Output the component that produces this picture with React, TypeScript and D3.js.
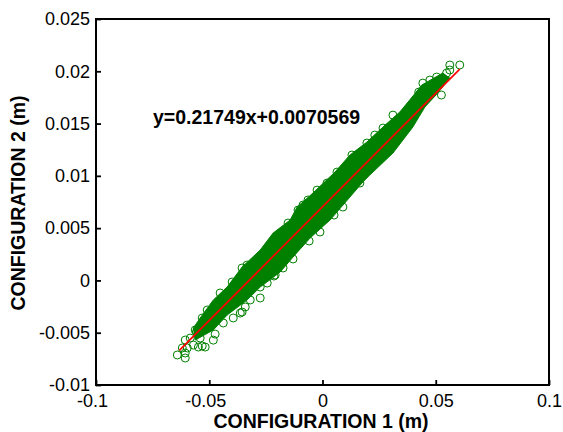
import React, { useEffect, useRef } from "react";
import * as d3 from "d3";

const width = 563;
const height = 432;
const margin = { top: 19, right: 14, bottom: 47, left: 96 };

const xTicks = [-0.1, -0.05, 0, 0.05, 0.1];
const xTickLabels = ["-0.1", "-0.05", "0", "0.05", "0.1"];
const yTicks = [-0.01, -0.005, 0, 0.005, 0.01, 0.015, 0.02, 0.025];
const yTickLabels = ["-0.01", "-0.005", "0", "0.005", "0.01", "0.015", "0.02", "0.025"];

// edge of the solid part of the cloud, too dense to read point by point
const upperEdge: [number, number][] = [
  [-0.057, -0.00455], [-0.054, -0.00359], [-0.0482, -0.00187], [-0.0421, -0.00063],
  [-0.0355, 0.00128], [-0.0275, 0.00291], [-0.0218, 0.00453], [-0.0143, 0.00577],
  [-0.0112, 0.00702], [-0.0042, 0.00836], [0.0055, 0.01036], [0.0121, 0.01199],
  [0.0196, 0.01323], [0.0267, 0.01467], [0.0341, 0.0161], [0.0385, 0.01725],
  [0.0438, 0.01868], [0.0531, 0.01983],
];
const lowerEdge: [number, number][] = [
  [0.0562, 0.01935], [0.0509, 0.01792], [0.0452, 0.01658], [0.0399, 0.01467],
  [0.0311, 0.01218], [0.0209, 0.01008], [0.0178, 0.00941], [0.0121, 0.00797],
  [0.0033, 0.00577], [-0.0055, 0.00405], [-0.013, 0.00224], [-0.0187, 0.0008],
  [-0.0275, -0.00063], [-0.0333, -0.00187], [-0.0421, -0.00331], [-0.0482, -0.00474],
  [-0.0562, -0.0057],
];

// circles that stand clear of the cloud
const outliers: [number, number][] = [
  [0.0562, 0.0206], [0.0606, 0.0206], [0.0562, 0.02012], [0.0548, 0.01983],
  [0.0525, 0.01773], [0.0425, 0.01801], [0.0311, 0.01581], [0.0231, 0.0139],
  [0.0196, 0.01314], [-0.0024, 0.00864], [-0.0086, 0.00721], [-0.0108, 0.00673],
  [-0.0152, 0.00549], [0.0051, 0.00625], [-0.0011, 0.00463], [-0.0059, 0.00377],
  [-0.013, 0.00205], [-0.0174, 0.00119], [-0.0214, 0.00042], [-0.0641, -0.00713],
  [-0.0606, -0.00742], [-0.0606, -0.00694], [-0.0597, -0.00646], [-0.0619, -0.00646],
  [-0.057, -0.00618], [-0.0518, -0.00637], [-0.0531, -0.00627], [-0.0474, -0.00513],
  [-0.054, -0.00551], [-0.0438, -0.00407], [-0.0355, -0.00302], [-0.0394, -0.00359],
  [-0.0275, -0.00168], [-0.0584, -0.00551], [-0.0557, -0.00494],
];

// circles half sunk into the edge of the cloud
const edgeCircles: [number, number][] = [
  [-0.0482, -0.00571], [-0.0548, -0.00637], [-0.0606, -0.0057], [-0.0562, -0.00474],
  [-0.0363, -0.00312], [-0.0341, -0.00254], [-0.0319, -0.00187], [-0.0275, -0.00063],
  [-0.0244, -0.00025], [-0.0209, 0.00052], [-0.0333, 0.00147], [-0.0355, 0.00119],
  [-0.0399, -0.00015], [-0.0452, -0.0012], [-0.0509, -0.00283], [-0.0531, -0.00359],
  [0.0443, 0.01887], [0.0474, 0.01916], [0.0504, 0.01945], [0.0267, 0.01457],
  [0.013, 0.01199], [0.0064, 0.01036], [0.002, 0.00931], [-0.0064, 0.00769],
  [0.0165, 0.00931], [0.009, 0.00702],
];

const fitLine: [number, number][] = [[-0.0632, -0.00668], [0.0606, 0.0202]];

const font = "'Liberation Sans', Arial, sans-serif";
const green = "#008000";

export default function App() {
  const ref = useRef<SVGSVGElement>(null);

  useEffect(() => {
    const svg = d3.select(ref.current);
    svg.selectAll("*").remove();

    const x = d3.scaleLinear().domain([-0.1, 0.1]).range([margin.left, width - margin.right]);
    const y = d3.scaleLinear().domain([-0.01, 0.025]).range([height - margin.bottom, margin.top]);
    const line = d3.line<[number, number]>().x(d => x(d[0])).y(d => y(d[1]));

    // CLOUD
    svg.append("path")
      .attr("d", line([...upperEdge, ...lowerEdge]) + "Z")
      .attr("fill", green)
      .attr("stroke", green);

    svg.append("g")
      .selectAll("circle")
      .data([...edgeCircles, ...outliers])
      .enter()
      .append("circle")
      .attr("cx", d => x(d[0]))
      .attr("cy", d => y(d[1]))
      .attr("r", 4)
      .attr("fill", "none")
      .attr("stroke", green)
      .attr("stroke-width", 1);

    svg.append("path")
      .attr("d", line(fitLine))
      .attr("fill", "none")
      .attr("stroke", "#ff0000")
      .attr("stroke-width", 1.7);

    // AXES
    const bottom = svg.append("g")
      .attr("transform", `translate(0,${height - margin.bottom})`)
      .call(d3.axisBottom(x).tickValues(xTicks).tickSize(-5).tickPadding(9)
        .tickFormat((_, i) => xTickLabels[i]));
    const left = svg.append("g")
      .attr("transform", `translate(${margin.left},0)`)
      .call(d3.axisLeft(y).tickValues(yTicks).tickSize(-5).tickPadding(6)
        .tickFormat((_, i) => yTickLabels[i]));

    [bottom, left].forEach(a => {
      a.attr("font-family", font).attr("font-size", 18);
      a.selectAll("text").attr("fill", "#000");
      a.selectAll("line").attr("stroke", "#000").attr("stroke-width", 1.8);
      a.select(".domain").remove();
    });

    // the minus sign pushes negative x labels left of their tick
    bottom.selectAll<SVGTextElement, number>("text").attr("dx", d => (d < 0 ? -4 : 0));

    svg.append("rect")
      .attr("x", margin.left)
      .attr("y", margin.top)
      .attr("width", width - margin.left - margin.right)
      .attr("height", height - margin.top - margin.bottom)
      .attr("fill", "none")
      .attr("stroke", "#000")
      .attr("stroke-width", 2);

    // LABELS
    svg.append("text")
      .attr("x", 321)
      .attr("y", 428)
      .attr("text-anchor", "middle")
      .attr("font-family", font)
      .attr("font-size", 19.5)
      .attr("font-weight", "bold")
      .text("CONFIGURATION 1 (m)");

    svg.append("text")
      .attr("transform", "translate(25,203) rotate(-90)")
      .attr("text-anchor", "middle")
      .attr("font-family", font)
      .attr("font-size", 19.5)
      .attr("font-weight", "bold")
      .text("CONFIGURATION 2 (m)");

    svg.append("text")
      .attr("x", 153)
      .attr("y", 124)
      .attr("font-family", font)
      .attr("font-size", 19.5)
      .attr("font-weight", "bold")
      .text("y=0.21749x+0.0070569");
  }, []);

  return (
    <svg
      ref={ref}
      width={width}
      height={height}
      style={{ position: "absolute", left: 0, top: 0, background: "#fff" }}
    />
  );
}
